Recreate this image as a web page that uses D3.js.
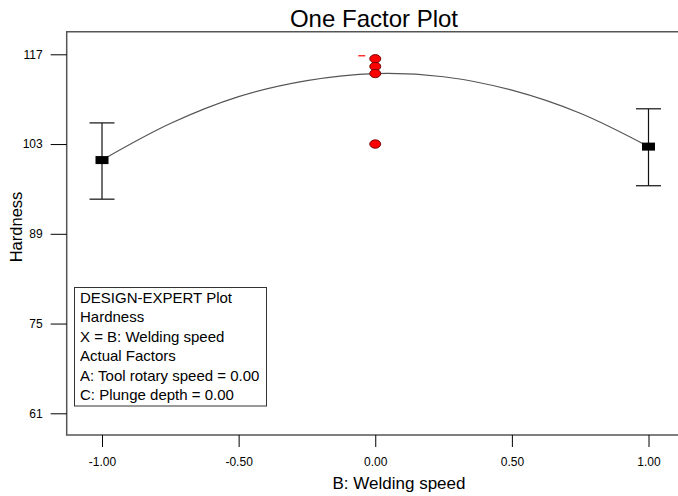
<!DOCTYPE html>
<html>
<head>
<meta charset="utf-8">
<script src="https://cdn.jsdelivr.net/npm/d3@7/dist/d3.min.js"></script>
<style>
  html, body { margin: 0; padding: 0; background: #fff; }
  svg { display: block; font-family: "Liberation Sans", Arial, sans-serif; }
</style>
</head>
<body>
<svg id="chart" width="678" height="496"></svg>
<script>
// Factor levels (coded) and tick labels
const xTicks = [-1, -0.5, 0, 0.5, 1];
const yTicks = [61, 75, 89, 103, 117];

// Predicted means at the factorial levels with their LSD bars
const levels = [-1, 1];
const means = [100.5, 102.6];
const barLow = [94.4, 96.5];
const barHigh = [106.3, 108.5];

// Centre-point observations
const pointX = [0, 0, 0, 0];
const pointY = [116.3, 115.1, 114.0, 103.0];

// Model prediction curve across the factor range
const curveX = [-1, -0.75, -0.5, -0.25, 0, 0.25, 0.5, 0.75, 1];
const curveY = [100.5, 106.2, 110.4, 112.9, 114.0, 113.5, 111.4, 107.8, 102.6];

// Legend text
const legendLines = [
  "DESIGN-EXPERT Plot",
  "Hardness",
  "X = B: Welding speed",
  "Actual Factors",
  "A: Tool rotary speed = 0.00",
  "C: Plunge depth = 0.00"
];

const svg = d3.select("#chart");
const W = 678, H = 496;
const frame = { left: 66.7, top: 31.7, bottom: 435 };

const x = d3.scaleLinear().domain([-1, 1]).range([102, 648.5]);
const y = d3.scaleLinear().domain([61, 117]).range([413.3, 54.3]);

// Plain hyphen-minus for negative tick values
const locale = d3.formatLocale({ decimal: ".", thousands: ",", grouping: [3], currency: ["", ""], minus: "-" });
const fmt2 = locale.format(".2f");

// Title
svg.append("text")
  .attr("x", 374).attr("y", 27)
  .attr("text-anchor", "middle")
  .attr("font-size", 24)
  .attr("fill", "#000")
  .text("One Factor Plot");

// Plot frame (open on the right)
svg.append("path")
  .attr("d", `M${W},${frame.top}H${frame.left}V${frame.bottom}H${W}`)
  .attr("fill", "none")
  .attr("stroke", "#555")
  .attr("stroke-width", 1.5);

// Axes
const yAxis = d3.axisLeft(y).tickValues(yTicks).tickSize(16).tickPadding(8).tickFormat(d3.format("d"));
const gy = svg.append("g").attr("transform", `translate(${frame.left},0)`).call(yAxis);
gy.select(".domain").remove();
gy.selectAll("text").attr("font-size", 12).attr("font-family", "Liberation Sans, Arial, sans-serif").attr("fill", "#000");
gy.selectAll("line").attr("stroke", "#000");

const xAxis = d3.axisBottom(x).tickValues(xTicks).tickSize(12).tickPadding(10).tickFormat(fmt2);
const gx = svg.append("g").attr("transform", `translate(0,${frame.bottom})`).call(xAxis);
gx.select(".domain").remove();
gx.selectAll("text").attr("font-size", 12).attr("font-family", "Liberation Sans, Arial, sans-serif").attr("fill", "#000");
gx.selectAll("line").attr("stroke", "#000");

// Axis titles
svg.append("text")
  .attr("x", 399).attr("y", 489)
  .attr("text-anchor", "middle")
  .attr("font-size", 17)
  .text("B: Welding speed");

svg.append("text")
  .attr("transform", "translate(22,227) rotate(-90)")
  .attr("text-anchor", "middle")
  .attr("font-size", 16.5)
  .text("Hardness");

// Prediction curve
const line = d3.line()
  .x((d, i) => x(curveX[i]))
  .y(d => y(d))
  .curve(d3.curveCatmullRom.alpha(0.5));
svg.append("path")
  .datum(curveY)
  .attr("d", line)
  .attr("fill", "none")
  .attr("stroke", "#555")
  .attr("stroke-width", 1.2);

// Error bars with caps
const capHalf = 12.5;
const bars = svg.append("g");
levels.forEach((lv, i) => {
  const cx = x(lv);
  bars.append("line")
    .attr("x1", cx).attr("x2", cx)
    .attr("y1", y(barHigh[i])).attr("y2", y(barLow[i]))
    .attr("stroke", "#111").attr("stroke-width", 1.2);
  [barHigh[i], barLow[i]].forEach(v => {
    bars.append("line")
      .attr("x1", cx - capHalf).attr("x2", cx + capHalf)
      .attr("y1", y(v)).attr("y2", y(v))
      .attr("stroke", "#222").attr("stroke-width", 1.3);
  });
  // mean marker
  bars.append("rect")
    .attr("x", cx - 6.5).attr("y", y(means[i]) - 4)
    .attr("width", 13).attr("height", 8)
    .attr("fill", "#000");
});

// Centre-point observations
svg.append("g").selectAll("ellipse")
  .data(pointY)
  .join("ellipse")
  .attr("cx", (d, i) => x(pointX[i]))
  .attr("cy", d => y(d))
  .attr("rx", 5.5).attr("ry", 4.2)
  .attr("fill", "#ff0000")
  .attr("stroke", "#600")
  .attr("stroke-width", 0.9);

// Replicate marker beside the top observation
svg.append("line")
  .attr("x1", x(pointX[0]) - 17).attr("x2", x(pointX[0]) - 10)
  .attr("y1", y(pointY[0]) - 3).attr("y2", y(pointY[0]) - 3)
  .attr("stroke", "#ff0000").attr("stroke-width", 1.2);

// Legend box
const lg = svg.append("g");
lg.append("rect")
  .attr("x", 74.5).attr("y", 287.5)
  .attr("width", 192).attr("height", 118.5)
  .attr("fill", "#fff")
  .attr("stroke", "#333").attr("stroke-width", 1);
lg.selectAll("text")
  .data(legendLines)
  .join("text")
  .attr("x", 80)
  .attr("y", (d, i) => 303 + i * 19.4)
  .attr("font-size", 15)
  .attr("fill", "#000")
  .text(d => d);
</script>
</body>
</html>
